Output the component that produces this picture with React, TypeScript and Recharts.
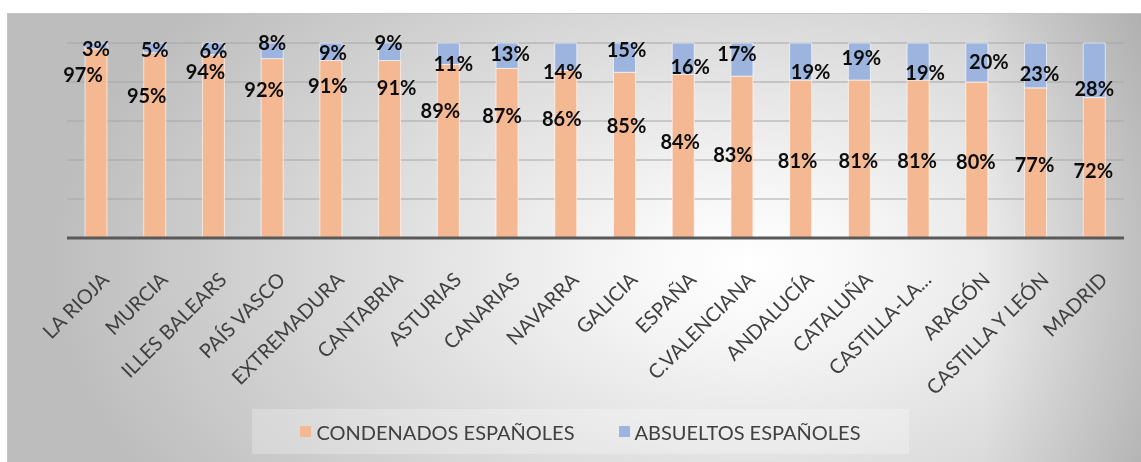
import { BarChart, Bar, XAxis, YAxis, CartesianGrid, LabelList } from "recharts";

const regions = [
  "LA RIOJA",
  "MURCIA",
  "ILLES BALEARS",
  "PAÍS VASCO",
  "EXTREMADURA",
  "CANTABRIA",
  "ASTURIAS",
  "CANARIAS",
  "NAVARRA",
  "GALICIA",
  "ESPAÑA",
  "C.VALENCIANA",
  "ANDALUCÍA",
  "CATALUÑA",
  "CASTILLA-LA...",
  "ARAGÓN",
  "CASTILLA Y LEÓN",
  "MADRID",
];

const condenados = [97, 95, 94, 92, 91, 91, 89, 87, 86, 85, 84, 83, 81, 81, 81, 80, 77, 72];
const absueltos = [3, 5, 6, 8, 9, 9, 11, 13, 14, 15, 16, 17, 19, 19, 19, 20, 23, 28];

const yTicks = [0, 20, 40, 60, 80, 100];

const SERIES = [
  { key: "condenados", name: "CONDENADOS ESPAÑOLES", color: "#F4B992" },
  { key: "absueltos", name: "ABSUELTOS ESPAÑOLES", color: "#9DB4DF" },
];

// the labels in the original were dragged by hand, so each one has its own nudge [dx, dy]
const condLabelShift = [
  [-13, 25], [-8, 42], [-8, 16], [-8, 30], [-3, 24], [7, 26],
  [-8, 46], [-5, 47], [-4, 48], [2, 53], [-3, 67], [-9, 78],
  [-3, 80], [-1, 80], [-1, 80], [-1, 79], [-1, 76], [-1, 72],
];
const absLabelShift = [
  [0, 5], [0, 6], [0, 7], [0, -1], [2, 9], [-1, -1],
  [5, 20], [3, 10], [-3, 28], [2, 6], [7, 23], [-5, 10],
  [10, 28], [2, 14], [7, 29], [12, 18], [4, 30], [0, 45],
];

const data = regions.map((region, i) => ({
  region,
  condenados: condenados[i],
  absueltos: absueltos[i],
}));

const FONT = "Lato, 'Open Sans', sans-serif";

const makeLabel = (shift: number[][]) => (props: any) => {
  const vb = props.viewBox ?? props;
  const x = vb.x ?? props.x;
  const y = vb.y ?? props.y;
  const width = vb.width ?? props.width;
  const i = props.index ?? 0;
  const [dx, dy] = shift[i] ?? [0, 0];
  return (
    <text
      x={x + width / 2 + dx}
      y={y + dy}
      textAnchor="middle"
      dominantBaseline="central"
      fontFamily={FONT}
      fontWeight={700}
      fontSize={20}
      fill="#0d0d0d"
    >
      {`${props.value}%`}
    </text>
  );
};

export default function App() {
  return (
    <div
      style={{
        position: "fixed",
        left: 7,
        top: 13,
        width: 1134,
        height: 449,
        borderTop: "1px solid #c4c4c4",
        borderLeft: "1px solid #c4c4c4",
        boxSizing: "border-box",
        background:
          "linear-gradient(to right, rgba(0,0,0,0) 86%, rgba(0,0,0,0.13) 100%), radial-gradient(ellipse 700px 420px at 740px 250px, #ffffff 0%, #f8f8f8 15%, #bdbdbd 100%)",
      }}
    >
      <div style={{ position: "absolute", left: -1, top: -1 }}>
        <BarChart
          width={1134}
          height={449}
          data={data}
          margin={{ top: 30, right: 17, bottom: 0, left: 60 }}
          barSize={22}
        >
          <CartesianGrid vertical={false} stroke="#a6a6a6" />
          <YAxis hide domain={[0, 100]} ticks={yTicks} />
          <XAxis
            dataKey="region"
            interval={0}
            height={224}
            tickLine={false}
            axisLine={{ stroke: "#595959", strokeWidth: 3 }}
            angle={-45}
            textAnchor="end"
            dx={4}
            dy={25}
            tick={{ fontFamily: FONT, fontSize: 20, fill: "#404040" }}
          />
          <Bar
            dataKey="condenados"
            stackId="a"
            fill={SERIES[0].color}
            stroke="rgba(255,255,255,0.6)"
            isAnimationActive={false}
          >
            <LabelList dataKey="condenados" content={makeLabel(condLabelShift)} />
          </Bar>
          <Bar
            dataKey="absueltos"
            stackId="a"
            fill={SERIES[1].color}
            stroke="rgba(255,255,255,0.6)"
            isAnimationActive={false}
          >
            <LabelList dataKey="absueltos" content={makeLabel(absLabelShift)} />
          </Bar>
        </BarChart>
      </div>
      <div
        style={{
          position: "absolute",
          left: 244,
          top: 395,
          width: 657,
          height: 45,
          background: "rgba(255,255,255,0.25)",
          display: "flex",
          alignItems: "center",
          justifyContent: "center",
          gap: 44,
          fontFamily: FONT,
          fontSize: 20,
          color: "#404040",
        }}
      >
        {SERIES.map((s) => (
          <div key={s.key} style={{ display: "flex", alignItems: "center", gap: 5 }}>
            <div style={{ width: 11, height: 11, background: s.color }} />
            <span>{s.name}</span>
          </div>
        ))}
      </div>
    </div>
  );
}
